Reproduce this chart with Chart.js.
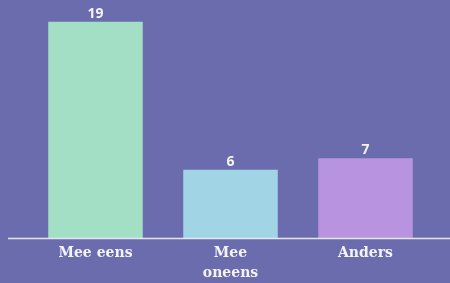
<!DOCTYPE html>
<html><head><meta charset="utf-8">
<script src="https://cdn.jsdelivr.net/npm/chart.js@4/dist/chart.umd.min.js"></script>
<style>html,body{margin:0;padding:0;background:#6b6cad;}#wrap{width:450px;height:283px;}</style>
</head><body><div id="wrap"><canvas id="c" width="450" height="283"></canvas></div>
<script>
const categories = [["Mee eens"], ["Mee", "oneens"], ["Anders"]];
const values = [19, 6, 7];
const barColors = ["#a3dfc4", "#a1d5e6", "#b793e0"];

const valueLabels = {
  id: 'valueLabels',
  afterDatasetsDraw(chart) {
    const ctx = chart.ctx;
    const meta = chart.getDatasetMeta(0);
    ctx.save();
    ctx.fillStyle = '#f4f4f8';
    ctx.font = 'bold 14px "Open Sans", sans-serif';
    ctx.textAlign = 'center';
    ctx.textBaseline = 'alphabetic';
    meta.data.forEach((bar, i) => {
      ctx.fillText(String(chart.data.datasets[0].data[i]), bar.x, bar.y - 4);
    });
    ctx.restore();
  }
};
const baseLine = {
  id: 'baseLine',
  afterDatasetsDraw(chart) {
    const ctx = chart.ctx;
    const y = chart.scales.y.getPixelForValue(0) + 0.5;
    ctx.save();
    ctx.strokeStyle = '#e6e6f2';
    ctx.lineWidth = 1.5;
    ctx.beginPath();
    ctx.moveTo(8, y);
    ctx.lineTo(chart.width, y);
    ctx.stroke();
    ctx.restore();
  }
};

new Chart(document.getElementById('c'), {
  type: 'bar',
  data: {
    labels: categories,
    datasets: [{ data: values, backgroundColor: barColors, borderWidth: 0,
      categoryPercentage: 0.7, barPercentage: 1.0 }]
  },
  options: {
    responsive: false,
    animation: false,
    devicePixelRatio: 1,
    layout: { padding: { left: 28, right: 17, top: 16, bottom: -5 } },
    plugins: { legend: { display: false }, tooltip: { enabled: false } },
    scales: {
      x: {
        grid: { display: false, drawTicks: false },
        border: { display: false },
        ticks: { color: '#f4f4f8', font: { family: '"DejaVu Serif", serif', weight: 'bold', size: 14, lineHeight: 1.43 },
          padding: 5, maxRotation: 0, autoSkip: false }
      },
      y: {
        display: false,
        min: 0, max: 19.5,
        beginAtZero: true
      }
    }
  },
  plugins: [valueLabels, baseLine]
});
</script></body></html>
